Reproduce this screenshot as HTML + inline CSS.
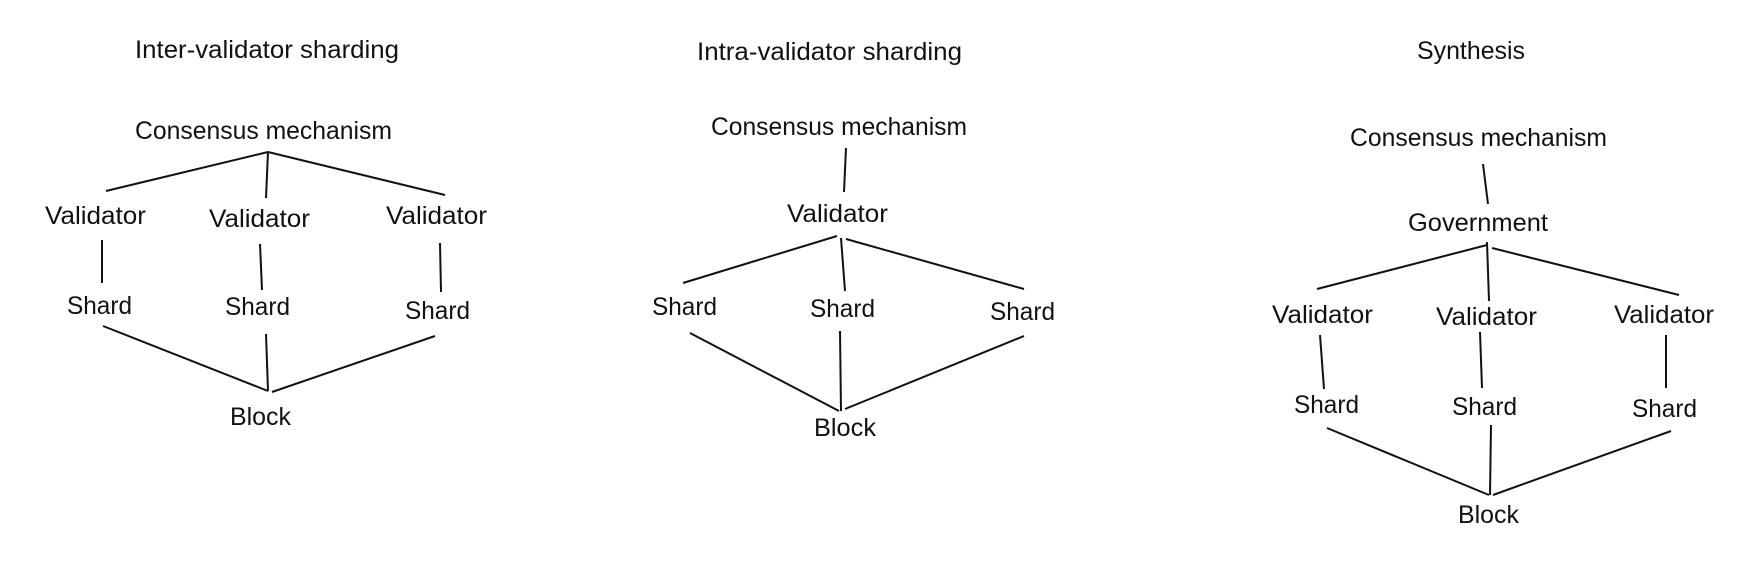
<!DOCTYPE html>
<html><head><meta charset="utf-8"><style>
html,body{margin:0;padding:0;background:#fff;width:1749px;height:573px;overflow:hidden}
svg{display:block}
text{font-family:"Liberation Sans",sans-serif;font-size:25px;fill:#111}
line{stroke:#111;stroke-width:2}
</style></head><body>
<svg width="1749" height="573" viewBox="0 0 1749 573" xmlns="http://www.w3.org/2000/svg">
<!-- Left -->
<text x="135" y="58" textLength="264" lengthAdjust="spacingAndGlyphs">Inter-validator sharding</text>
<text x="135" y="139" textLength="257" lengthAdjust="spacingAndGlyphs">Consensus mechanism</text>
<line x1="268" y1="152" x2="106" y2="191"/>
<line x1="268" y1="152" x2="445" y2="195"/>
<line x1="268" y1="152" x2="266" y2="198"/>
<text x="45" y="224" textLength="101" lengthAdjust="spacingAndGlyphs">Validator</text>
<text x="209" y="227" textLength="101" lengthAdjust="spacingAndGlyphs">Validator</text>
<text x="386" y="224" textLength="101" lengthAdjust="spacingAndGlyphs">Validator</text>
<line x1="102" y1="240" x2="102" y2="283"/>
<line x1="260" y1="244" x2="262" y2="290"/>
<line x1="440" y1="243" x2="441" y2="292"/>
<text x="67" y="314" textLength="65" lengthAdjust="spacingAndGlyphs">Shard</text>
<text x="225" y="315" textLength="65" lengthAdjust="spacingAndGlyphs">Shard</text>
<text x="405" y="319" textLength="65" lengthAdjust="spacingAndGlyphs">Shard</text>
<line x1="103" y1="326" x2="268" y2="391"/>
<line x1="266" y1="334" x2="268" y2="391"/>
<line x1="435" y1="336" x2="272" y2="392"/>
<text x="230" y="425" textLength="61" lengthAdjust="spacingAndGlyphs">Block</text>
<!-- Middle -->
<text x="697" y="60" textLength="265" lengthAdjust="spacingAndGlyphs">Intra-validator sharding</text>
<text x="711" y="135" textLength="256" lengthAdjust="spacingAndGlyphs">Consensus mechanism</text>
<line x1="846" y1="148" x2="844" y2="192"/>
<text x="787" y="222" textLength="101" lengthAdjust="spacingAndGlyphs">Validator</text>
<line x1="837" y1="236" x2="683" y2="283"/>
<line x1="846" y1="239" x2="1024" y2="289"/>
<line x1="841" y1="238" x2="845" y2="291"/>
<text x="652" y="315" textLength="65" lengthAdjust="spacingAndGlyphs">Shard</text>
<text x="810" y="317" textLength="65" lengthAdjust="spacingAndGlyphs">Shard</text>
<text x="990" y="320" textLength="65" lengthAdjust="spacingAndGlyphs">Shard</text>
<line x1="690" y1="333" x2="839" y2="411"/>
<line x1="840" y1="331" x2="841" y2="411"/>
<line x1="1024" y1="336" x2="845" y2="409"/>
<text x="814" y="436" textLength="62" lengthAdjust="spacingAndGlyphs">Block</text>
<!-- Right -->
<text x="1417" y="59" textLength="108" lengthAdjust="spacingAndGlyphs">Synthesis</text>
<text x="1350" y="146" textLength="257" lengthAdjust="spacingAndGlyphs">Consensus mechanism</text>
<line x1="1483" y1="164" x2="1488" y2="204"/>
<text x="1408" y="231" textLength="140" lengthAdjust="spacingAndGlyphs">Government</text>
<line x1="1487" y1="245" x2="1317" y2="289"/>
<line x1="1492" y1="248" x2="1679" y2="295"/>
<line x1="1487" y1="242" x2="1489" y2="301"/>
<text x="1272" y="323" textLength="101" lengthAdjust="spacingAndGlyphs">Validator</text>
<text x="1436" y="325" textLength="101" lengthAdjust="spacingAndGlyphs">Validator</text>
<text x="1614" y="323" textLength="100" lengthAdjust="spacingAndGlyphs">Validator</text>
<line x1="1320" y1="335" x2="1324" y2="389"/>
<line x1="1480" y1="332" x2="1482" y2="388"/>
<line x1="1666" y1="335" x2="1666" y2="388"/>
<text x="1294" y="413" textLength="65" lengthAdjust="spacingAndGlyphs">Shard</text>
<text x="1452" y="415" textLength="65" lengthAdjust="spacingAndGlyphs">Shard</text>
<text x="1632" y="417" textLength="65" lengthAdjust="spacingAndGlyphs">Shard</text>
<line x1="1327" y1="428" x2="1489" y2="495"/>
<line x1="1491" y1="425" x2="1490" y2="495"/>
<line x1="1671" y1="431" x2="1493" y2="495"/>
<text x="1458" y="523" textLength="61" lengthAdjust="spacingAndGlyphs">Block</text>
</svg>
</body></html>
